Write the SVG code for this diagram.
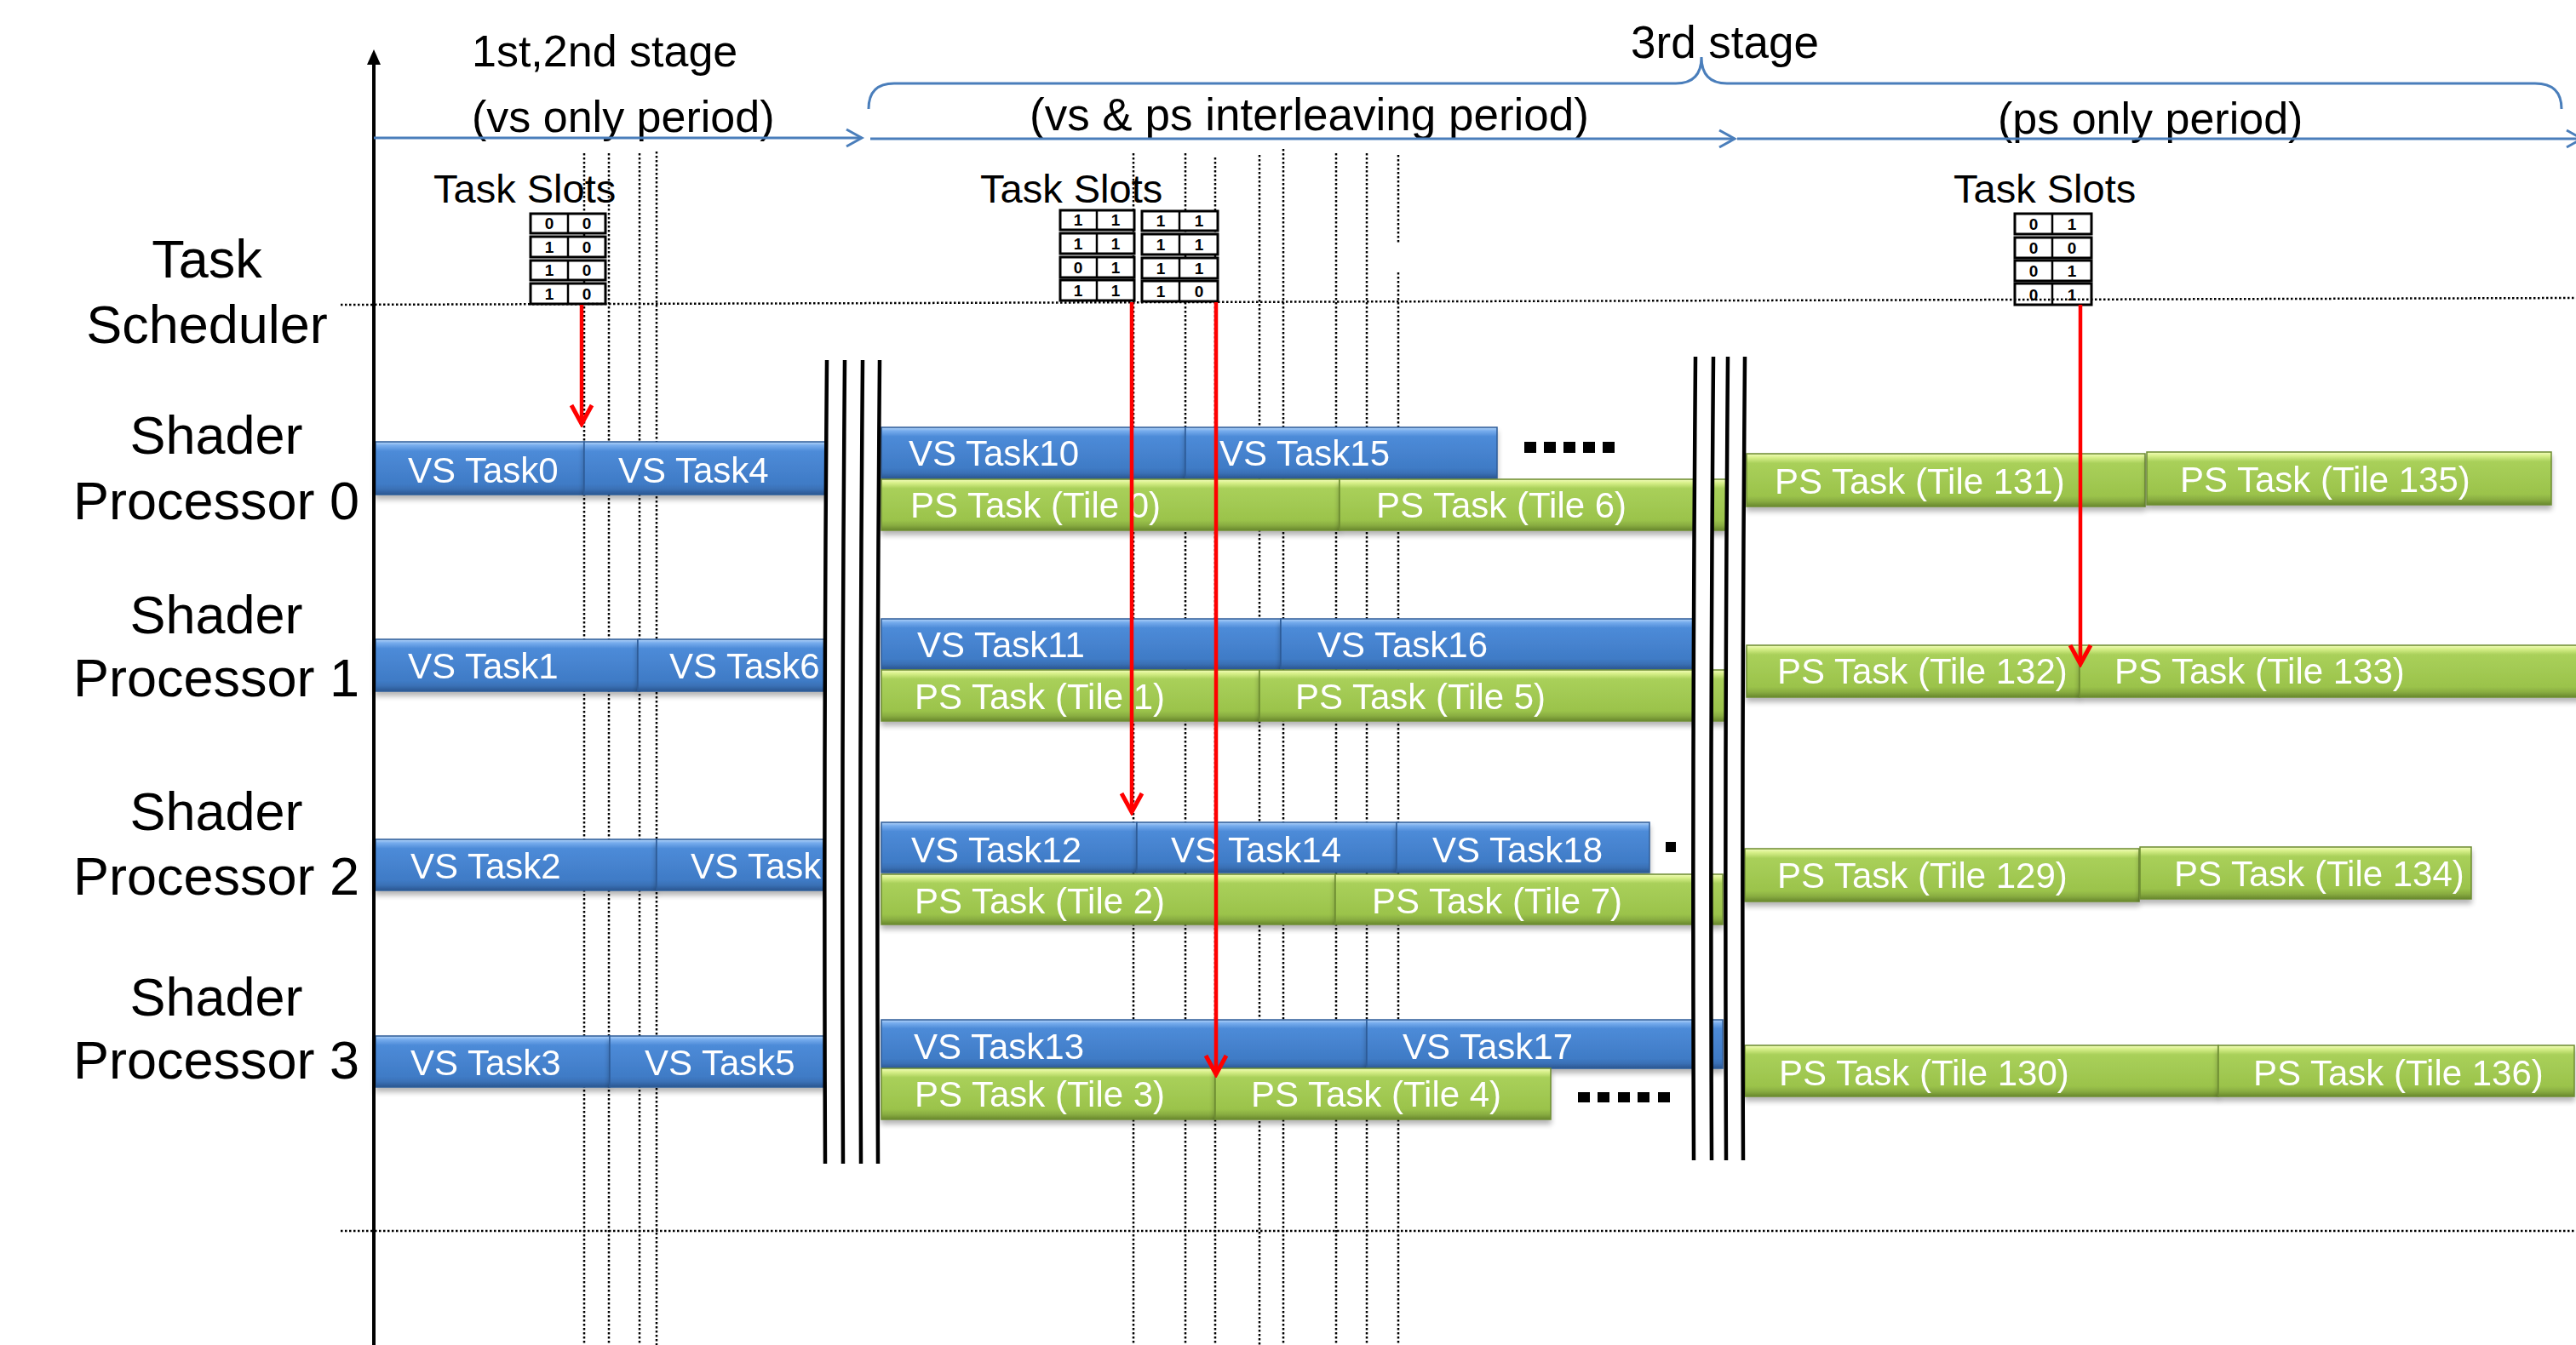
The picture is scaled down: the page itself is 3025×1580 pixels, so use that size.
<svg xmlns="http://www.w3.org/2000/svg" width="3025" height="1580" viewBox="0 0 3025 1580">
<style>
.lbl{font-family:"Liberation Sans",Arial,sans-serif;font-size:63px;fill:#000;text-anchor:middle}
.ttl{font-family:"Liberation Sans",Arial,sans-serif;font-size:52px;fill:#000}
.ts{font-family:"Liberation Sans",Arial,sans-serif;font-size:47px;fill:#000}
.bt{font-family:"Liberation Sans",Arial,sans-serif;font-size:42px;fill:#fff}
.dg{font-family:"Liberation Sans",Arial,sans-serif;font-size:19px;font-weight:bold;fill:#000;text-anchor:middle}
.vsr{fill:url(#gb);stroke:#2e5c98;stroke-width:1.5}
.psr{fill:url(#gg);stroke:#6c8c30;stroke-width:1.5}
.dot{stroke:#000;stroke-width:2.5;stroke-dasharray:2.5 2.5;fill:none}
.cell{fill:#fff;stroke:#000;stroke-width:3}
.red{stroke:#ff0000;stroke-width:4.5;fill:none;marker-end:url(#ar)}
.blu{stroke:#4a7ebb;stroke-width:3;fill:none}
.brk{stroke:#000;stroke-width:4.5;fill:none}
</style>
<defs>
<linearGradient id="gb" x1="0" y1="0" x2="0" y2="1">
<stop offset="0" stop-color="#b4d4f8"/>
<stop offset="0.07" stop-color="#76aced"/>
<stop offset="0.18" stop-color="#4d8bd8"/>
<stop offset="0.8" stop-color="#3f7bc6"/>
<stop offset="0.9" stop-color="#3a70b5"/>
<stop offset="1" stop-color="#2a5690"/>
</linearGradient>
<linearGradient id="gg" x1="0" y1="0" x2="0" y2="1">
<stop offset="0" stop-color="#f2fcbc"/>
<stop offset="0.07" stop-color="#d8f08a"/>
<stop offset="0.18" stop-color="#a9d05a"/>
<stop offset="0.8" stop-color="#9bc34b"/>
<stop offset="0.9" stop-color="#89ad41"/>
<stop offset="1" stop-color="#68882e"/>
</linearGradient>
<filter id="sh" x="-5%" y="-20%" width="110%" height="170%">
<feGaussianBlur in="SourceAlpha" stdDeviation="3"/>
<feOffset dy="5" result="o"/>
<feComponentTransfer><feFuncA type="linear" slope="0.3"/></feComponentTransfer>
<feMerge><feMergeNode/><feMergeNode in="SourceGraphic"/></feMerge>
</filter>
<marker id="ar" markerUnits="userSpaceOnUse" viewBox="-28 -16 32 32" refX="0" refY="0" markerWidth="32" markerHeight="32" orient="auto">
<path d="M-22,-12 L0,0 L-22,12" stroke="#ff0000" stroke-width="5" fill="none"/>
</marker>
<marker id="ab" markerUnits="userSpaceOnUse" viewBox="-24 -14 28 28" refX="0" refY="0" markerWidth="28" markerHeight="28" orient="auto">
<path d="M-18,-10 L0,0 L-18,10" stroke="#4a7ebb" stroke-width="3" fill="none"/>
</marker>
</defs>
<rect x="0" y="0" width="3025" height="1580" fill="#fff"/>

<!-- dotted guide lines -->
<g id="guides">
<line class="dot" x1="686" y1="180" x2="686" y2="1580"/>
<line class="dot" x1="715" y1="180" x2="715" y2="1580"/>
<line class="dot" x1="751" y1="180" x2="751" y2="1580"/>
<line class="dot" x1="771" y1="178" x2="771" y2="1580"/>
<line class="dot" x1="1331" y1="180" x2="1331" y2="1580"/>
<line class="dot" x1="1392" y1="180" x2="1392" y2="1580"/>
<line class="dot" x1="1427" y1="185" x2="1427" y2="1580"/>
<line class="dot" x1="1479" y1="182" x2="1479" y2="1580"/>
<line class="dot" x1="1507" y1="175" x2="1507" y2="1580"/>
<line class="dot" x1="1569" y1="180" x2="1569" y2="1580"/>
<line class="dot" x1="1605" y1="180" x2="1605" y2="1580"/>
<line class="dot" x1="1642" y1="182" x2="1642" y2="285"/>
<line class="dot" x1="1642" y1="320" x2="1642" y2="1580"/>
<line class="dot" x1="400" y1="1446" x2="3025" y2="1446"/>
</g>

<!-- left labels -->
<g id="task-scheduler"><text class="lbl" x="243" y="326">Task</text><text class="lbl" x="243" y="403">Scheduler</text></g>
<g id="sp0-label"><text class="lbl" x="254" y="533">Shader</text><text class="lbl" x="254" y="610">Processor 0</text></g>
<g id="sp1-label"><text class="lbl" x="254" y="744">Shader</text><text class="lbl" x="254" y="818">Processor 1</text></g>
<g id="sp2-label"><text class="lbl" x="254" y="975">Shader</text><text class="lbl" x="254" y="1051">Processor 2</text></g>
<g id="sp3-label"><text class="lbl" x="254" y="1193">Shader</text><text class="lbl" x="254" y="1267">Processor 3</text></g>

<!-- stage titles -->
<g id="stage12"><text class="ttl" x="554" y="78">1st,2nd stage</text><text class="ttl" x="554" y="155">(vs only period)</text></g>
<g id="stage3"><text class="ttl" x="1915" y="68" style="font-size:53px">3rd stage</text>
<text class="ttl" x="1209" y="153" style="font-size:53px">(vs &amp; ps interleaving period)</text>
<text class="ttl" x="2346" y="157">(ps only period)</text></g>

<!-- task slots -->
<g id="slots1">
<text class="ts" x="509" y="238">Task Slots</text>
<rect class="cell" x="623" y="251" width="88" height="23"/><line stroke="#000" stroke-width="2.5" x1="667" y1="251" x2="667" y2="274"/><text class="dg" x="645" y="269">0</text><text class="dg" x="689" y="269">0</text>
<rect class="cell" x="623" y="278" width="88" height="24"/><line stroke="#000" stroke-width="2.5" x1="667" y1="278" x2="667" y2="302"/><text class="dg" x="645" y="297">1</text><text class="dg" x="689" y="297">0</text>
<rect class="cell" x="623" y="306" width="88" height="23"/><line stroke="#000" stroke-width="2.5" x1="667" y1="306" x2="667" y2="329"/><text class="dg" x="645" y="324">1</text><text class="dg" x="689" y="324">0</text>
<rect class="cell" x="623" y="333" width="88" height="24"/><line stroke="#000" stroke-width="2.5" x1="667" y1="333" x2="667" y2="357"/><text class="dg" x="645" y="352">1</text><text class="dg" x="689" y="352">0</text>
</g>
<g id="slots2">
<text class="ts" x="1151" y="238">Task Slots</text>
<rect class="cell" x="1245" y="247" width="87" height="23"/><line stroke="#000" stroke-width="2.5" x1="1288" y1="247" x2="1288" y2="270"/><text class="dg" x="1266" y="265">1</text><text class="dg" x="1310" y="265">1</text>
<rect class="cell" x="1245" y="274" width="87" height="24"/><line stroke="#000" stroke-width="2.5" x1="1288" y1="274" x2="1288" y2="298"/><text class="dg" x="1266" y="293">1</text><text class="dg" x="1310" y="293">1</text>
<rect class="cell" x="1245" y="302" width="87" height="24"/><line stroke="#000" stroke-width="2.5" x1="1288" y1="302" x2="1288" y2="326"/><text class="dg" x="1266" y="321">0</text><text class="dg" x="1310" y="321">1</text>
<rect class="cell" x="1245" y="329" width="87" height="24"/><line stroke="#000" stroke-width="2.5" x1="1288" y1="329" x2="1288" y2="353"/><text class="dg" x="1266" y="348">1</text><text class="dg" x="1310" y="348">1</text>
<rect class="cell" x="1341" y="248" width="89" height="23"/><line stroke="#000" stroke-width="2.5" x1="1385" y1="248" x2="1385" y2="271"/><text class="dg" x="1363" y="266">1</text><text class="dg" x="1408" y="266">1</text>
<rect class="cell" x="1341" y="275" width="89" height="24"/><line stroke="#000" stroke-width="2.5" x1="1385" y1="275" x2="1385" y2="299"/><text class="dg" x="1363" y="294">1</text><text class="dg" x="1408" y="294">1</text>
<rect class="cell" x="1341" y="303" width="89" height="24"/><line stroke="#000" stroke-width="2.5" x1="1385" y1="303" x2="1385" y2="327"/><text class="dg" x="1363" y="322">1</text><text class="dg" x="1408" y="322">1</text>
<rect class="cell" x="1341" y="330" width="89" height="24"/><line stroke="#000" stroke-width="2.5" x1="1385" y1="330" x2="1385" y2="354"/><text class="dg" x="1363" y="349">1</text><text class="dg" x="1408" y="349">0</text>
</g>
<g id="slots3">
<text class="ts" x="2294" y="238">Task Slots</text>
<rect class="cell" x="2366" y="251" width="90" height="24"/><line stroke="#000" stroke-width="2.5" x1="2410" y1="251" x2="2410" y2="275"/><text class="dg" x="2388" y="270">0</text><text class="dg" x="2433" y="270">1</text>
<rect class="cell" x="2366" y="279" width="90" height="24"/><line stroke="#000" stroke-width="2.5" x1="2410" y1="279" x2="2410" y2="303"/><text class="dg" x="2388" y="298">0</text><text class="dg" x="2433" y="298">0</text>
<rect class="cell" x="2366" y="306" width="90" height="24"/><line stroke="#000" stroke-width="2.5" x1="2410" y1="306" x2="2410" y2="330"/><text class="dg" x="2388" y="325">0</text><text class="dg" x="2433" y="325">1</text>
<rect class="cell" x="2366" y="333" width="90" height="25"/><line stroke="#000" stroke-width="2.5" x1="2410" y1="333" x2="2410" y2="358"/><text class="dg" x="2388" y="353">0</text><text class="dg" x="2433" y="353">1</text>
</g>
<line class="dot" x1="400" y1="358" x2="3025" y2="350"/>

<!-- bars: stage 1/2 -->
<g id="vs-task0" filter="url(#sh)"><rect class="vsr" x="441" y="519" width="245" height="62"/><text class="bt" x="479" y="567">VS Task0</text></g>
<g id="vs-task4" filter="url(#sh)"><rect class="vsr" x="686" y="519" width="286" height="62"/><text class="bt" x="726" y="567">VS Task4</text></g>
<g id="vs-task1" filter="url(#sh)"><rect class="vsr" x="441" y="751" width="308" height="61"/><text class="bt" x="479" y="797">VS Task1</text></g>
<g id="vs-task6" filter="url(#sh)"><rect class="vsr" x="749" y="751" width="221" height="61"/><text class="bt" x="786" y="797">VS Task6</text></g>
<g id="vs-task2" filter="url(#sh)"><rect class="vsr" x="441" y="986" width="330" height="60"/><text class="bt" x="482" y="1032">VS Task2</text></g>
<g id="vs-task7" filter="url(#sh)"><rect class="vsr" x="771" y="986" width="198" height="60"/><text class="bt" x="811" y="1032">VS Task</text></g>
<g id="vs-task3" filter="url(#sh)"><rect class="vsr" x="441" y="1217" width="275" height="60"/><text class="bt" x="482" y="1263">VS Task3</text></g>
<g id="vs-task5" filter="url(#sh)"><rect class="vsr" x="716" y="1217" width="253" height="60"/><text class="bt" x="757" y="1263">VS Task5</text></g>

<!-- bars: interleaving -->
<g id="vs-task10" filter="url(#sh)"><rect class="vsr" x="1035" y="502" width="357" height="60"/><text class="bt" x="1067" y="547">VS Task10</text></g>
<g id="vs-task15" filter="url(#sh)"><rect class="vsr" x="1392" y="502" width="366" height="60"/><text class="bt" x="1432" y="547">VS Task15</text></g>
<g id="ps-tile0" filter="url(#sh)"><rect class="psr" x="1035" y="563" width="538" height="60"/><text class="bt" x="1069" y="608">PS Task (Tile 0)</text></g>
<g id="ps-tile6" filter="url(#sh)"><rect class="psr" x="1573" y="563" width="454" height="60"/><text class="bt" x="1616" y="608">PS Task (Tile 6)</text></g>

<g id="vs-task11" filter="url(#sh)"><rect class="vsr" x="1035" y="727" width="469" height="59"/><text class="bt" x="1077" y="772">VS Task11</text></g>
<g id="vs-task16" filter="url(#sh)"><rect class="vsr" x="1504" y="727" width="487" height="59"/><text class="bt" x="1547" y="772">VS Task16</text></g>
<g id="ps-tile1" filter="url(#sh)"><rect class="psr" x="1035" y="787" width="444" height="60"/><text class="bt" x="1074" y="833">PS Task (Tile 1)</text></g>
<g id="ps-tile5" filter="url(#sh)"><rect class="psr" x="1479" y="787" width="547" height="60"/><text class="bt" x="1521" y="833">PS Task (Tile 5)</text></g>

<g id="vs-task12" filter="url(#sh)"><rect class="vsr" x="1035" y="966" width="300" height="59"/><text class="bt" x="1070" y="1013">VS Task12</text></g>
<g id="vs-task14" filter="url(#sh)"><rect class="vsr" x="1335" y="966" width="305" height="59"/><text class="bt" x="1375" y="1013">VS Task14</text></g>
<g id="vs-task18" filter="url(#sh)"><rect class="vsr" x="1640" y="966" width="297" height="59"/><text class="bt" x="1682" y="1013">VS Task18</text></g>
<g id="ps-tile2" filter="url(#sh)"><rect class="psr" x="1035" y="1027" width="533" height="59"/><text class="bt" x="1074" y="1073">PS Task (Tile 2)</text></g>
<g id="ps-tile7" filter="url(#sh)"><rect class="psr" x="1568" y="1027" width="455" height="59"/><text class="bt" x="1611" y="1073">PS Task (Tile 7)</text></g>

<g id="vs-task13" filter="url(#sh)"><rect class="vsr" x="1035" y="1198" width="570" height="57"/><text class="bt" x="1073" y="1244">VS Task13</text></g>
<g id="vs-task17" filter="url(#sh)"><rect class="vsr" x="1605" y="1198" width="418" height="57"/><text class="bt" x="1647" y="1244">VS Task17</text></g>
<g id="ps-tile3" filter="url(#sh)"><rect class="psr" x="1035" y="1255" width="392" height="60"/><text class="bt" x="1074" y="1300">PS Task (Tile 3)</text></g>
<g id="ps-tile4" filter="url(#sh)"><rect class="psr" x="1427" y="1255" width="394" height="60"/><text class="bt" x="1469" y="1300">PS Task (Tile 4)</text></g>

<!-- bars: ps only -->
<g id="ps-tile131" filter="url(#sh)"><rect class="psr" x="2051" y="533" width="468" height="62"/><text class="bt" x="2084" y="580">PS Task (Tile 131)</text></g>
<g id="ps-tile135" filter="url(#sh)"><rect class="psr" x="2521" y="531" width="475" height="62"/><text class="bt" x="2560" y="578">PS Task (Tile 135)</text></g>
<g id="ps-tile132" filter="url(#sh)"><rect class="psr" x="2051" y="758" width="391" height="61"/><text class="bt" x="2087" y="803">PS Task (Tile 132)</text></g>
<g id="ps-tile133" filter="url(#sh)"><rect class="psr" x="2442" y="758" width="600" height="61"/><text class="bt" x="2483" y="803">PS Task (Tile 133)</text></g>
<g id="ps-tile129" filter="url(#sh)"><rect class="psr" x="2049" y="997" width="463" height="62"/><text class="bt" x="2087" y="1043">PS Task (Tile 129)</text></g>
<g id="ps-tile134" filter="url(#sh)"><rect class="psr" x="2513" y="995" width="389" height="61"/><text class="bt" x="2553" y="1041">PS Task (Tile 134)</text></g>
<g id="ps-tile130" filter="url(#sh)"><rect class="psr" x="2049" y="1228" width="556" height="60"/><text class="bt" x="2089" y="1275">PS Task (Tile 130)</text></g>
<g id="ps-tile136" filter="url(#sh)"><rect class="psr" x="2605" y="1228" width="418" height="60"/><text class="bt" x="2646" y="1275">PS Task (Tile 136)</text></g>

<!-- ellipsis dots -->
<g id="dots" fill="#000">
<rect x="1790" y="519" width="14" height="13"/><rect x="1813" y="519" width="14" height="13"/><rect x="1836" y="519" width="14" height="13"/><rect x="1859" y="519" width="14" height="13"/><rect x="1882" y="519" width="14" height="13"/>
<rect x="1956" y="989" width="12" height="12"/>
<rect x="1853" y="1283" width="14" height="12"/><rect x="1876" y="1283" width="14" height="12"/><rect x="1900" y="1283" width="14" height="12"/><rect x="1923" y="1283" width="14" height="12"/><rect x="1947" y="1283" width="14" height="12"/>
</g>

<!-- break marks -->
<g id="break-left">
<path d="M971,423 Q967,895 969,1367 L990,1367 Q988,895 992,423 Z" fill="#fff"/>
<path d="M1013,423 Q1009,895 1011,1367 L1031,1367 Q1029,895 1033,423 Z" fill="#fff"/>
<path class="brk" d="M971,423 Q967,895 969,1367 M992,423 Q988,895 990,1367 M1013,423 Q1009,895 1011,1367 M1033,423 Q1029,895 1031,1367"/>
</g>
<g id="break-right">
<path d="M1991,419 Q1987,891 1989,1363 L2010,1363 Q2008,891 2012,419 Z" fill="#fff"/>
<path d="M2029,419 Q2025,891 2027,1363 L2047,1363 Q2045,891 2049,419 Z" fill="#fff"/>
<path class="brk" d="M1991,419 Q1987,891 1989,1363 M2012,419 Q2008,891 2010,1363 M2029,419 Q2025,891 2027,1363 M2049,419 Q2045,891 2047,1363"/>
</g>

<!-- axis and timeline -->
<g id="axis">
<line x1="439" y1="1580" x2="439" y2="72" stroke="#000" stroke-width="4"/>
<polygon points="431,76 439,58 447,76" fill="#000"/>
</g>
<g id="connectors">
<line class="blu" x1="439" y1="162" x2="1012" y2="162" marker-end="url(#ab)"/>
<line class="blu" x1="1022" y1="163" x2="2037" y2="163" marker-end="url(#ab)"/>
<line class="blu" x1="2040" y1="163" x2="3032" y2="163" marker-end="url(#ab)"/>
<path class="blu" d="M1020,128 Q1020,98 1050,98 L1968,98 Q1998,98 1998,67 Q1998,98 2028,98 L2977,98 Q3008,98 3008,128"/>
<line class="red" x1="683" y1="358" x2="683" y2="498"/>
<line class="red" x1="1329" y1="355" x2="1329" y2="954"/>
<line class="red" x1="1428" y1="355" x2="1428" y2="1262"/>
<line class="red" x1="2443" y1="358" x2="2443" y2="780"/>
</g>
</svg>
